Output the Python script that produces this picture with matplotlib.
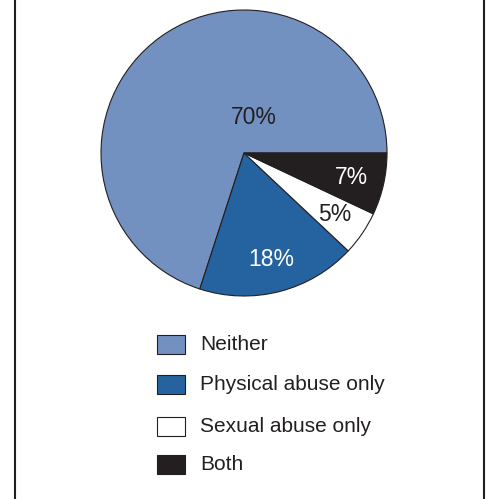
import matplotlib
matplotlib.use('Agg')
from matplotlib import pyplot as plt
from matplotlib import patches

plt.rcParams['font.family'] = ['Liberation Sans', 'DejaVu Sans']

categories = ['Neither', 'Physical abuse only', 'Sexual abuse only', 'Both']
shares = [70, 18, 5, 7]
pct_labels = ['70%', '18%', '5%', '7%']
colors = ['#7391c0', '#2563a0', '#ffffff', '#231f20']
text_colors = ['#231f20', '#ffffff', '#231f20', '#ffffff']

W, H = 488, 499
fig = plt.figure(figsize=(W / 100, H / 100), dpi=100)

# pie axes: centre (244, 153) px, radius 143 px
cx, cy, r = 244, 153, 143
ax = fig.add_axes([(cx - r) / W, (H - cy - r) / H, 2 * r / W, 2 * r / H])
wedges, texts, autotexts = ax.pie(
    shares, colors=colors, startangle=0, counterclock=True,
    autopct=lambda p: '', pctdistance=0.77,
    wedgeprops=dict(edgecolor='#231f20', linewidth=0.8))
for t, lab, tc in zip(autotexts, pct_labels, text_colors):
    t.set_text(lab)
    t.set_color(tc)
    t.set_fontsize(16.5)
# the big slice label sits near the centre
autotexts[0].set_position((0.07, 0.25))
ax.set_xlim(-1, 1)
ax.set_ylim(-1, 1)
ax.set_aspect('auto')
ax.axis('off')

# frame lines at left and right edges
fig.add_artist(plt.Line2D([15 / W, 15 / W], [0, 1], color='#231f20', lw=1.5))
fig.add_artist(plt.Line2D([484 / W, 484 / W], [0, 1], color='#231f20', lw=1.5))

# legend drawn manually
rows_y = [345, 385, 427, 465]
for lab, col, y in zip(categories, colors, rows_y):
    fig.add_artist(patches.Rectangle((157 / W, (H - y - 9) / H), 28 / W, 19 / H,
                                     facecolor=col, edgecolor='#231f20', lw=0.8,
                                     transform=fig.transFigure))
    fig.text(200 / W, (H - y) / H, lab, fontsize=15, color='#231f20', va='center')

plt.savefig('out.png', dpi=100)
